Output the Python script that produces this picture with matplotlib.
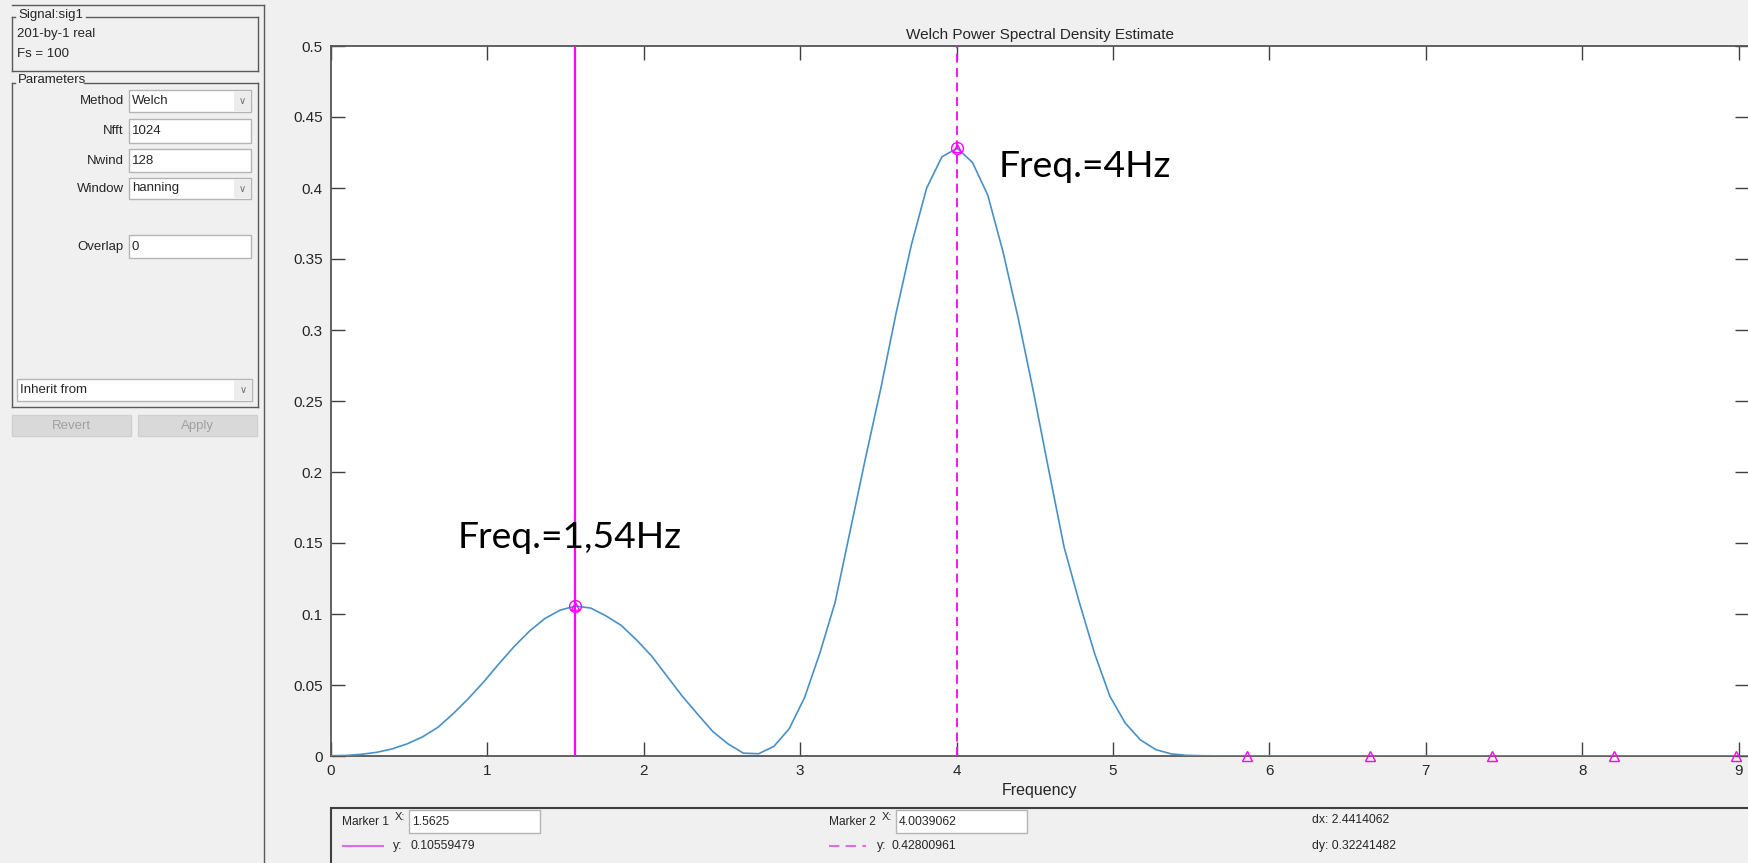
import numpy as np
import matplotlib
matplotlib.use("Agg")
import matplotlib.pyplot as plt
from matplotlib.patches import Rectangle
from matplotlib.lines import Line2D

# ---------------- data ----------------
fs = 100          # sampling frequency (Hz)
nfft = 1024       # FFT length
psd = [0.0002, 0.0004, 0.0012, 0.0026, 0.0050, 0.0086, 0.0135, 0.0202, 0.0298, 0.0405,
       0.0522, 0.0650, 0.0772, 0.0880, 0.0968, 0.1027, 0.1056, 0.1042, 0.0987, 0.0920,
       0.0818, 0.0703, 0.0562, 0.0421, 0.0295, 0.0172, 0.0085, 0.0020, 0.0016, 0.0068,
       0.0192, 0.0410, 0.0722, 0.1080, 0.1590, 0.2100, 0.2590, 0.3120, 0.3600, 0.4000,
       0.4220, 0.4280, 0.4180, 0.3950, 0.3550, 0.3080, 0.2560, 0.2010, 0.1470, 0.1080,
       0.0720, 0.0420, 0.0232, 0.0113, 0.0045, 0.0015, 0.0005, 0.0002, 0.0001, 0.00005,
       0.00006, 0.00004, 0.00003, 0.00002, 0.00002, 0.00002, 0.00002, 0.00002, 0.00003, 0.00002,
       0.00002, 0.00001, 0.00001, 0.00001, 0.00001, 0.00001, 0.00002, 0.00001, 0.00001, 0.00001,
       0.00001, 0.00001, 0.00001, 0.00001, 0.00002, 0.00001, 0.00001, 0.00001, 0.00001, 0.00001,
       0.00001, 0.00001, 0.00002, 0.00001]
freq = np.arange(len(psd)) * fs / nfft

marker1_x, marker1_y = 1.5625, 0.10559479
marker2_x, marker2_y = 4.0039062, 0.42800961
peak_bins = [60, 68, 76, 84, 92]   # small side-lobe peaks marked with triangles

xticks = [0, 1, 2, 3, 4, 5, 6, 7, 8, 9]
yticks = [0, 0.05, 0.1, 0.15, 0.2, 0.25, 0.3, 0.35, 0.4, 0.45, 0.5]
ytick_labels = ["0", "0.05", "0.1", "0.15", "0.2", "0.25", "0.3", "0.35", "0.4", "0.45", "0.5"]

title = "Welch Power Spectral Density Estimate"
xlabel = "Frequency"
ann1 = "Freq.=1,54Hz"
ann2 = "Freq.=4Hz"

panel_params = [("Method", "Welch", True), ("Nfft", "1024", False), ("Nwind", "128", False),
                ("Window", "hanning", True), ("Overlap", "0", False)]

# ---------------- figure ----------------
W, H = 1749, 863
BG = "#f0f0f0"
UI = ["Liberation Sans", "DejaVu Sans"]
TXT = "#262626"
MAG = "#ff00ff"

fig = plt.figure(figsize=(W / 100, H / 100), dpi=100, facecolor=BG)

# background / UI layer in pixel coordinates
ui = fig.add_axes([0, 0, 1, 1], zorder=0)
ui.set_xlim(0, W)
ui.set_ylim(H, 0)
ui.axis("off")

def rect(x0, y0, x1, y1, fc="white", ec="#adadad", lw=1.0, z=1):
    ui.add_patch(Rectangle((x0, y0), x1 - x0, y1 - y0, facecolor=fc, edgecolor=ec, lw=lw, zorder=z))

def line(xs, ys, color="#5a5a5a", lw=1.0, **kw):
    ui.add_line(Line2D(xs, ys, color=color, lw=lw, **kw))

def txt(x, y, s, size=9, ha="left", va="center", color=TXT, **kw):
    ui.text(x, y, s, fontsize=size, ha=ha, va=va, color=color, family=UI, **kw)

# outer left panel frame
line([12, 264], [5, 5])
line([264, 264], [5, H])

# group box "Signal:sig1"
line([12, 12], [17, 71]); line([258, 258], [17, 71]); line([12, 258], [71, 71])
line([12, 15], [17, 17]); line([86, 258], [17, 17])
txt(18, 15, "Signal:sig1", size=9.5)
txt(17, 34, "201-by-1 real", size=9.5)
txt(17, 54, "Fs = 100", size=9.5)

# group box "Parameters"
line([12, 12], [83, 407]); line([258, 258], [83, 407]); line([12, 258], [407, 407])
line([12, 15], [83, 83]); line([84, 258], [83, 83])
txt(18, 80, "Parameters", size=9.5)

rows_y = [(90, 112), (119, 143), (149, 172), (178, 199), (235, 258)]
for (lab, val, combo), (y0, y1) in zip(panel_params, rows_y):
    yc = (y0 + y1) / 2
    txt(124, yc, lab, size=9.5, ha="right")
    rect(129, y0, 251, y1, fc="white", ec="#b4b4b4")
    if combo:
        rect(234, y0 + 1, 251, y1 - 1, fc="#ececec", ec="none")
        txt(242.5, yc, "\u2228", size=7, ha="center", color="#707070")
    txt(132, yc, val, size=9.5)

rect(17, 379, 252, 401, fc="white", ec="#b4b4b4")
rect(234, 380, 252, 400, fc="#ececec", ec="none")
txt(243, 390, "\u2228", size=7, ha="center", color="#707070")
txt(20, 390, "Inherit from", size=9.5)

rect(12, 415, 131, 436, fc="#d9d9d9", ec="#d0d0d0")
rect(138, 415, 257, 436, fc="#d9d9d9", ec="#d0d0d0")
txt(71, 426, "Revert", size=9.5, ha="center", color="#a0a0a0")
txt(197, 426, "Apply", size=9.5, ha="center", color="#a0a0a0")

# bottom marker panel
rect(331, 808, W + 10, H + 10, fc=BG, ec="#404040", lw=1.5)
row1, row2 = 822, 846
txt(342, row1, "Marker 1", size=8.6)
txt(395, row1 - 5, "X:", size=8)
rect(409, row1 - 12, 540, row1 + 11, fc="white", ec="#b4b4b4")
txt(412, row1, "1.5625", size=8.8)
line([343, 383], [row2, row2], color="#e070e0", lw=1.5)
txt(393, row2, "y:", size=8.8)
txt(411, row2, "%.8f" % marker1_y, size=8.8)

txt(829, row1, "Marker 2", size=8.6)
txt(882, row1 - 5, "X:", size=8)
rect(896, row1 - 12, 1027, row1 + 11, fc="white", ec="#b4b4b4")
txt(899, row1, "%.7f" % marker2_x, size=8.8)
line([829, 866], [row2, row2], color="#e070e0", lw=1.5, ls=(0, (5, 3)))
txt(877, row2, "y:", size=8.8)
txt(892, row2, "%.8f" % marker2_y, size=8.8)

txt(1312, row1 - 2, "dx: %.7f" % (marker2_x - marker1_x), size=8.8)
txt(1312, row2, "dy: %.8f" % (marker2_y - marker1_y), size=8.8)

# ---------------- main axes ----------------
ax = fig.add_axes([331 / W, 1 - 756 / H, (W - 331) / W, 710 / H], zorder=2)
ax.set_facecolor("white")
ax.plot(freq, psd, color="#4890c6", lw=1.2, zorder=3)
ax.axvline(marker1_x, color=MAG, lw=1.6, zorder=4)
ax.axvline(marker2_x, color=MAG, lw=1.3, ls=(0, (5, 3)), zorder=4)
for mx, my in [(marker1_x, marker1_y), (marker2_x, marker2_y)]:
    ax.plot([mx], [my], marker="o", ms=8.5, mfc="none", mec=MAG, mew=1.0, zorder=5, clip_on=False)
    ax.plot([mx], [my], marker="^", ms=6, mfc="none", mec=MAG, mew=1.0, zorder=5, clip_on=False)
ax.plot(freq[peak_bins], [psd[i] for i in peak_bins], ls="none", marker="^", ms=7,
        mfc="none", mec=MAG, mew=1.0, zorder=5, clip_on=False)

ax.set_xlim(0, (W - 331) / 156.4)
ax.set_ylim(0, 0.5)
ax.set_xticks(xticks)
ax.set_xticklabels([str(t) for t in xticks])
ax.set_yticks(yticks)
ax.set_yticklabels(ytick_labels)
ax.tick_params(direction="in", length=10, width=1.0, color="#404040", labelsize=11,
               labelcolor=TXT, top=True, right=True, pad=6)
for lab in ax.get_xticklabels() + ax.get_yticklabels():
    lab.set_family(UI)
for side in ["left", "bottom", "top"]:
    ax.spines[side].set_color("#555555")
    ax.spines[side].set_linewidth(1.3)
ax.spines["right"].set_visible(False)

ax.set_title(title, fontsize=11, color=TXT, family=UI, pad=5)
ax.set_xlabel(xlabel, fontsize=11.5, color=TXT, family=UI, labelpad=3)

ax.text(0.812, 0.1465, ann1, fontsize=26.8, family=["Lato", "DejaVu Sans"], color="black",
        ha="left", va="baseline", zorder=6)
ax.text(4.271, 0.4077, ann2, fontsize=26.8, family=["Lato", "DejaVu Sans"], color="black",
        ha="left", va="baseline", zorder=6)

fig.savefig("out.png", dpi=100, facecolor=BG)
